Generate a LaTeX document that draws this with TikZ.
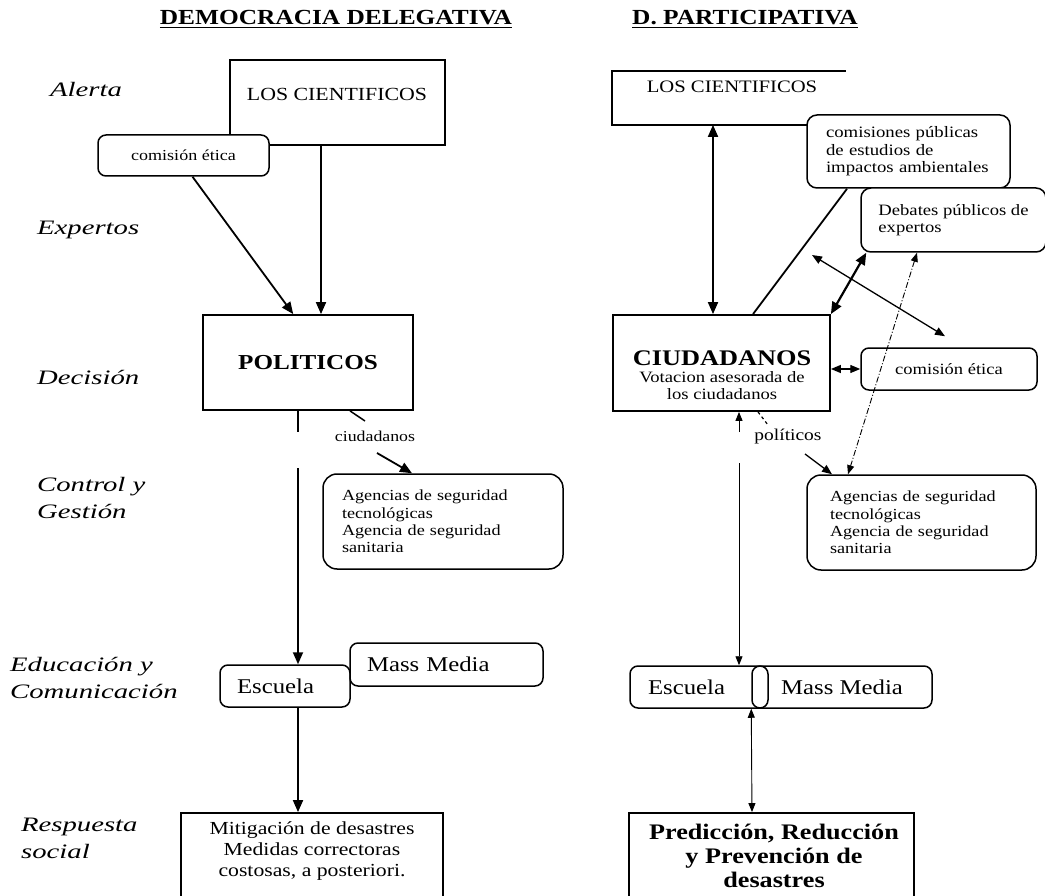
\documentclass[tikz,border=0pt]{standalone}
\usepackage{fontspec}
\setmainfont[FakeStretch=1.18]{Liberation Serif}
\newfontfamily\lblfont[FakeStretch=1.4]{Liberation Serif}
\usetikzlibrary{arrows.meta,calc}
\newcommand\fsz[2]{\fontsize{#1}{#2}\selectfont}
\tikzset{
  bx/.style={draw, line width=1.8pt, inner sep=0pt},
  rbx/.style={draw, line width=1.5pt, rounded corners=#1, inner sep=0pt},
  rbx/.default=8pt,
  txt/.style={inner sep=0pt},
  lbl/.style={font=\lblfont\itshape\fsz{20.5}{27}, align=left, inner sep=0pt},
  hdr/.style={font=\bfseries\fsz{21.5}{26}, inner sep=0pt},
  ln/.style={line width=1.8pt},
  arr/.style={line width=1.8pt, -{Triangle[length=12pt,width=10pt]}},
  darr/.style={line width=1.8pt, {Triangle[length=12pt,width=10pt]}-{Triangle[length=12pt,width=10pt]}},
  marr/.style={line width=1.3pt, -{Triangle[length=10pt,width=8pt]}},
  mdarr/.style={line width=1.3pt, {Triangle[length=10pt,width=8pt]}-{Triangle[length=10pt,width=8pt]}},
  tarr/.style={line width=0.9pt, -{Triangle[length=9pt,width=7pt]}},
  tdarr/.style={line width=0.9pt, {Triangle[length=9pt,width=7pt]}-{Triangle[length=9pt,width=7pt]}},
}
\begin{document}
\begin{tikzpicture}[x=1pt,y=-1pt]
\useasboundingbox (0,0) rectangle (1045,896);
\clip (0,0) rectangle (1045,896);
\fill[white] (0,0) rectangle (1045,896);

% headers
\node[hdr, anchor=base] (h1) at (336,25) {\underline{DEMOCRACIA DELEGATIVA}};
\node[hdr, anchor=base] (h2) at (745,25) {\underline{D. PARTICIPATIVA}};

% row labels
\node[lbl, anchor=base west] (lA) at (50,97) {Alerta};
\node[lbl, anchor=base west] (lE) at (37,235) {Expertos};
\node[lbl, anchor=base west] (lD) at (37,384) {Decisión};
\node[lbl, anchor=west] (lC) at (37,498) {Control y\\Gestión};
\node[lbl, anchor=west] (lEd) at (10,678) {Educación y\\Comunicación};
\node[lbl, anchor=west] (lR) at (21,838) {Respuesta\\social};

% left column
\node[bx, minimum width=215pt, minimum height=85pt] (LCL) at (337.5,102.5) {};
\node[txt, font=\fsz{18.5}{20}] (LCLt) at (337,94) {LOS CIENTIFICOS};
\node[rbx, fill=white, minimum width=171pt, minimum height=41pt, font=\fsz{15.3}{17}] (CEL) at (183.5,155.5) {comisión ética};
\node[bx, minimum width=210pt, minimum height=95pt, font=\bfseries\fsz{21.3}{24}] (POL) at (308,362.5) {POLITICOS};
\node[txt, font=\fsz{15.1}{17}] (CIUL) at (375,436) {ciudadanos};
\node[rbx=14pt, minimum width=240pt, minimum height=95pt, inner xsep=19pt, text width=202pt, align=left, font=\fsz{15.4}{17.3}] (AGL) at (443,521.5) {Agencias de seguridad\\tecnológicas\\Agencia de seguridad\\sanitaria};
\node[rbx, minimum width=193pt, minimum height=43pt, inner xsep=17pt, text width=159pt, align=left, font=\fsz{21}{24}] (MML) at (446.5,664.5) {Mass Media};
\node[rbx, minimum width=130pt, minimum height=42pt, inner xsep=17pt, text width=96pt, align=left, font=\fsz{21}{24}] (ESL) at (285,686) {Escuela};
\node[bx, minimum width=262pt, minimum height=97pt] (MIT) at (312,861.5) {};
\node[txt, align=center, font=\fsz{18.4}{21}] (MITt) at (312,851) {Mitigación de desastres\\Medidas correctoras\\costosas, a posteriori.};

% left connectors
\draw[arr] (CEL.-67.5) -- (POL.107.5);
\draw[arr] ([xshift=-16.5pt]LCL.south) -- ([xshift=13pt]POL.north);
\coordinate (g1) at (298,432);
\coordinate (g2) at (298,468);
\draw[ln] ([xshift=-10pt]POL.south) -- (g1);
\draw[arr] (g2) -- ([xshift=13pt]ESL.north);
\draw[arr] ([xshift=13pt]ESL.south) -- ([xshift=-14pt]MIT.north);
\coordinate (t1) at (365,421);
\coordinate (t2) at (377,453);
\draw[line width=1.5pt] ([xshift=42pt]POL.south) -- (t1);
\draw[arr] (t2) -- ([xshift=-31pt]AGL.north);

% right column
\node[bx, draw=none, minimum width=232pt, minimum height=52pt] (LCR) at (729,98) {};
\draw[ln] (LCR.north east) -- (LCR.north west) -- (LCR.south west) -- (LCR.south east);
\node[txt, font=\fsz{17.5}{20}] (LCRt) at (732,87) {LOS CIENTIFICOS};
\node[rbx=10pt, fill=white, minimum width=203pt, minimum height=73pt, inner xsep=19pt, text width=165pt, align=left, font=\fsz{15.9}{17.5}] (CPR) at (908.5,151.5) {comisiones públicas\\de estudios de\\impactos ambientales};
\node[rbx=10pt, fill=white, minimum width=185pt, minimum height=64pt, align=left, font=\fsz{15.8}{17}] (DPR) at (953.5,220) {Debates públicos de\\expertos};
\node[bx, minimum width=217pt, minimum height=96pt] (CIU) at (721.5,363) {};
\node[txt, align=center, font=\fsz{15.8}{17}] (CIUt) at (722,375) {{\bfseries\fsz{22.3}{24}CIUDADANOS}\\Votacion asesorada de\\los ciudadanos};
\node[rbx, minimum width=176pt, minimum height=42pt, font=\fsz{15.7}{17}] (CER) at (949,369) {comisión ética};
\node[txt, font=\fsz{16.5}{18}] (POLR) at (788,437) {políticos};
\node[rbx=14pt, minimum width=229pt, minimum height=95pt, inner xsep=23pt, text width=183pt, align=left, font=\fsz{15.4}{17.3}] (AGR) at (921.5,522.5) {Agencias de seguridad\\tecnológicas\\Agencia de seguridad\\sanitaria};
\node[rbx, minimum width=138pt, minimum height=42pt, inner xsep=18pt, text width=102pt, align=left, font=\fsz{21}{24}] (ESR) at (699,687) {Escuela};
\node[rbx, minimum width=180pt, minimum height=42pt, font=\fsz{21}{24}] (MMR) at (842,687) {Mass Media};
\node[bx, minimum width=285pt, minimum height=97pt] (PRR) at (771.5,861.5) {};
\node[txt, align=center, font=\bfseries\fsz{22.2}{24}] (PRRt) at (774,856) {Predicción, Reducción\\y Prevención de\\desastres};

% right connectors
\draw[darr] ([xshift=-16pt]LCR.south) -- ([xshift=-8.5pt]CIU.north);
\draw[ln] ([xshift=31.5pt]CIU.north) -- ([xshift=-61.5pt]CPR.south);
\draw[darr, line width=2.2pt] (CIU.north east) -- ([xshift=6pt]DPR.south west);
\coordinate (fa) at (812,255);
\draw[mdarr] (fa) -- ([xshift=-4pt,yshift=11pt]CER.north);
\draw[tdarr, dash pattern=on 6pt off 2pt on 1pt off 2pt] ([xshift=-36.5pt]DPR.south) -- ([xshift=-73.5pt]AGR.north);
\draw[mdarr] (CER.west -| CIU.east) -- (CER.west);
\coordinate (t3) at (768,425);
\coordinate (t4) at (805,454);
\draw[line width=1.2pt, dashed] ([xshift=36.5pt]CIU.south) -- (t3);
\draw[marr] (t4) -- ([xshift=-89.5pt]AGR.north);
\coordinate (g3) at (739,432);
\coordinate (g4) at (739,463);
\draw[tarr] (g3) -- ([xshift=17.5pt]CIU.south);
\draw[tarr] (g4) -- ([xshift=40pt]ESR.north);
\draw[tdarr] (MMR.south west) -- ([xshift=-19.5pt]PRR.north);
\end{tikzpicture}
\end{document}
